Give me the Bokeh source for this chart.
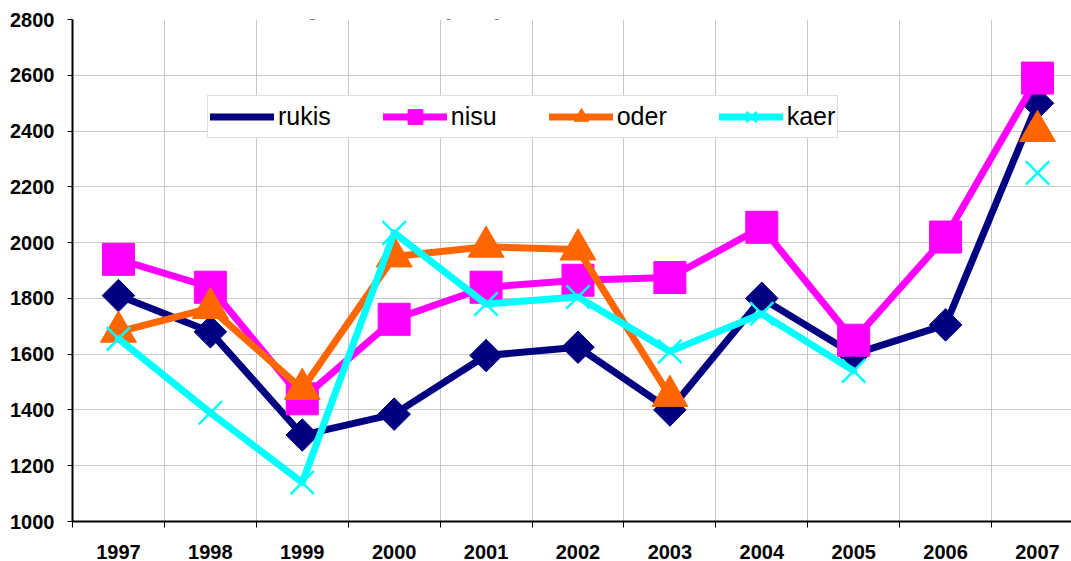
import numpy as np
from bokeh.plotting import figure
from bokeh.models import Range1d, FixedTicker, Legend, LegendItem, Label, Grid
from bokeh.embed import file_html
from bokeh.resources import INLINE

nan = float("nan")

title_text = "Joonis 12. Toiduteravilja hinnad (kr/t)"
years = ["1997", "1998", "1999", "2000", "2001", "2002", "2003", "2004", "2005", "2006", "2007"]
rukis = [1810, 1680, 1310, 1385, 1595, 1625, 1400, 1800, 1600, 1705, 2500]
nisu = [1940, 1840, 1440, 1725, 1840, 1865, 1875, 2055, 1650, 2020, 2590]
oder = [1680, 1765, 1475, 1950, 1985, 1975, 1450, nan, nan, nan, 2400]
kaer = [1655, 1390, 1140, 2035, 1780, 1805, 1610, 1745, 1540, nan, 2250]
y_ticks = [1000, 1200, 1400, 1600, 1800, 2000, 2200, 2400, 2600, 2800]

x = np.arange(len(years))
boundaries = [i + 0.5 for i in range(-1, len(years) - 1)]

p = figure(width=1071, height=561, output_backend="svg", toolbar_location=None,
           x_range=Range1d(-0.5, 10.37), y_range=Range1d(1000, 2800),
           min_border_left=72, min_border_right=0, min_border_top=19, min_border_bottom=40)
p.background_fill_color = "white"
p.border_fill_color = "white"
p.outline_line_color = None

FONT = "Liberation Sans"

# y axis
p.yaxis.ticker = FixedTicker(ticks=y_ticks)
p.yaxis.major_label_text_font = FONT
p.yaxis.major_label_text_font_style = "bold"
p.yaxis.major_label_text_font_size = "20px"
p.yaxis.major_label_text_color = "black"
p.yaxis.major_tick_out = 5
p.yaxis.major_tick_in = 0
p.yaxis.major_tick_line_color = "black"
p.yaxis.minor_tick_line_color = None
p.yaxis.axis_line_color = "black"
p.yaxis.axis_line_width = 2
p.yaxis.major_label_standoff = 13

# x axis
p.xaxis.ticker = FixedTicker(ticks=list(x), minor_ticks=boundaries)
p.xaxis.major_label_overrides = {int(i): y for i, y in zip(x, years)}
p.xaxis.major_label_text_font = FONT
p.xaxis.major_label_text_font_style = "bold"
p.xaxis.major_label_text_font_size = "20px"
p.xaxis.major_label_text_color = "black"
p.xaxis.major_tick_line_color = None
p.xaxis.major_tick_out = 0
p.xaxis.major_tick_in = 0
p.xaxis.minor_tick_line_color = "black"
p.xaxis.minor_tick_out = 6
p.xaxis.minor_tick_in = 0
p.xaxis.axis_line_color = "black"
p.xaxis.axis_line_width = 2
p.xaxis.major_label_standoff = 17

# grids
p.xgrid.ticker = FixedTicker(ticks=boundaries[1:])
p.xgrid.grid_line_color = "#c8c8c8"
p.xgrid.grid_line_width = 1
p.ygrid.ticker = FixedTicker(ticks=y_ticks[1:-1])
p.ygrid.grid_line_color = "#c8c8c8"
p.ygrid.grid_line_width = 1
top_grid = Grid(dimension=1, ticker=FixedTicker(ticks=y_ticks[-1:]),
                grid_line_color="#8c8c8c", grid_line_width=2)
p.add_layout(top_grid)

LW = 7
# rukis
r_line = p.line(x, rukis, line_color="#000080", line_width=LW, line_join="round", line_cap="round")
r_pts = p.scatter(x, rukis, marker="square", angle=np.pi / 4, size=23,
                  fill_color="#000080", line_color="#000080")
r_proxy = p.scatter([], [], marker="diamond", fill_color="#000080", line_color="#000080")
# nisu
n_line = p.line(x, nisu, line_color="#FF00FF", line_width=LW, line_join="round", line_cap="round")
n_pts = p.scatter(x, nisu, marker="square", size=32, fill_color="#FF00FF", line_color="#FF00FF")
# oder
o_line = p.line(x, oder, line_color="#FF6600", line_width=LW, line_join="round", line_cap="round")
o_pts = p.scatter(x, oder, marker="triangle", size=36, fill_color="#FF6600", line_color="#FF6600")
# kaer
k_line = p.line(x, kaer, line_color="#00FFFF", line_width=LW, line_join="round", line_cap="round")
k_pts = p.scatter(x, kaer, marker="x", size=33, line_color="#00FFFF", line_width=2.5)

legend = Legend(items=[
    LegendItem(label="rukis", renderers=[r_line, r_proxy]),
    LegendItem(label="nisu", renderers=[n_line, n_pts]),
    LegendItem(label="oder", renderers=[o_line, o_pts]),
    LegendItem(label="kaer", renderers=[k_line, k_pts]),
], orientation="horizontal", location=(135, 383))
legend.label_text_font = FONT
legend.label_text_font_size = "25px"
legend.label_text_color = "black"
legend.glyph_width = 64
legend.glyph_height = 37
legend.padding = 2
legend.spacing = 52
legend.label_standoff = 4
legend.margin = 0
legend.border_line_color = "#c0c0c0"
legend.border_line_width = 1
legend.background_fill_color = "white"
legend.background_fill_alpha = 1
p.add_layout(legend, "center")

title = Label(x=-63, y=517, x_units="screen", y_units="screen", text=title_text,
              text_font=FONT, text_font_style="bold", text_font_size="28px",
              text_color="black", text_baseline="alphabetic", text_align="left")
p.add_layout(title)

open("out.html", "w").write(file_html(p, INLINE))
